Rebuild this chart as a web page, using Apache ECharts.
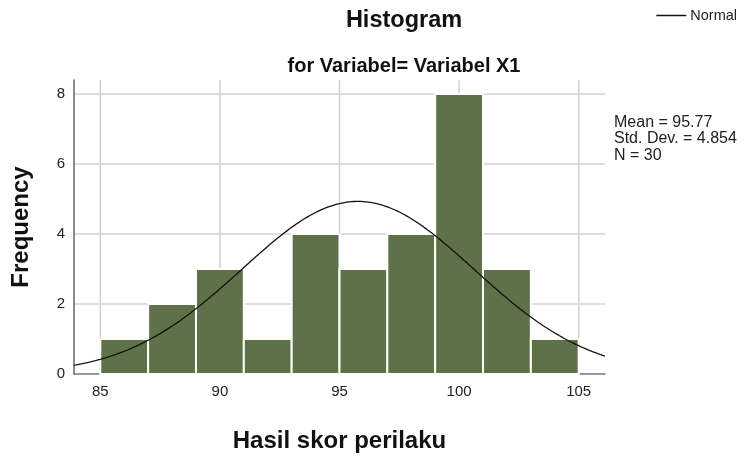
<!DOCTYPE html>
<html>
<head>
<meta charset="utf-8">
<script src="https://cdn.jsdelivr.net/npm/echarts@6/dist/echarts.min.js"></script>
<style>
  html, body { margin: 0; padding: 0; background: #fff; }
  #chart { width: 747px; height: 458px; }
</style>
</head>
<body>
<div id="chart"></div>
<script>
// histogram bins (start of each bin, width 2)
const binStarts = [85, 87, 89, 91, 93, 95, 97, 99, 101, 103];
const binWidth = 2;
const counts = [1, 2, 3, 1, 4, 3, 4, 8, 3, 1];

// stats printed next to the plot
const mean = 95.77;
const stdDev = 4.854;
const n = 30;

const xTicks = [85, 90, 95, 100, 105];
const yTicks = [2, 4, 6, 8];

const xMin = 83.9;
const xMax = 106.1;
const yMax = 8.4;

// normal curve scaled to the histogram (n * binWidth * pdf)
const curve = [];
for (let x = xMin; x <= xMax + 0.001; x += 0.1) {
  const z = (x - mean) / stdDev;
  const y = n * binWidth * Math.exp(-0.5 * z * z) / (stdDev * Math.sqrt(2 * Math.PI));
  curve.push([x, y]);
}

const bars = binStarts.map((s, i) => [s, s + binWidth, counts[i]]);

const myChart = echarts.init(document.getElementById('chart'));

const font = 'Liberation Sans, Arial, sans-serif';
const gridColor = '#d2d2d2';

const option = {
  animation: false,
  textStyle: { fontFamily: font },
  title: [
    {
      text: 'Histogram',
      left: 399,
      top: 4,
      textAlign: 'center',
      textStyle: { fontSize: 23.5, fontWeight: 'bold', color: '#111' }
    },
    {
      text: 'for Variabel= Variabel X1',
      left: 399,
      top: 51,
      textAlign: 'center',
      textStyle: { fontSize: 20, fontWeight: 'bold', color: '#111' }
    }
  ],
  legend: {
    data: [{ name: 'Normal', icon: 'rect' }],
    right: 5,
    top: 3,
    itemWidth: 30,
    itemHeight: 1.5,
    itemGap: 2,
    textStyle: { fontSize: 14.5, color: '#222', padding: [0, 0, 0, -1] }
  },
  graphic: [
    {
      type: 'text',
      left: 614,
      top: 114,
      style: {
        text: 'Mean = ' + mean + '\nStd. Dev. = ' + stdDev + '\nN = ' + n,
        font: '16px ' + font,
        lineHeight: 16.5,
        fill: '#222'
      }
    }
  ],
  grid: {
    left: 74,
    right: 142,
    top: 80,
    bottom: 82
  },
  xAxis: {
    type: 'value',
    min: xMin,
    max: xMax,
    name: 'Hasil skor perilaku',
    nameLocation: 'middle',
    nameGap: 55,
    nameTextStyle: { fontSize: 24, fontWeight: 'bold', color: '#111' },
    axisLine: { show: true, lineStyle: { color: '#777', width: 1.5 } },
    axisTick: { show: false },
    splitLine: { show: false },
    axisLabel: {
      fontSize: 15,
      color: '#222',
      margin: 10,
      formatter: v => (xTicks.indexOf(Math.round(v * 100) / 100) >= 0 ? String(v) : '')
    }
  },
  yAxis: {
    type: 'value',
    min: 0,
    max: yMax,
    name: 'Frequency',
    nameLocation: 'middle',
    nameGap: 41,
    nameTextStyle: { fontSize: 24, fontWeight: 'bold', color: '#111' },
    axisLine: { show: true, lineStyle: { color: '#666', width: 1.5 } },
    axisTick: { show: false },
    splitLine: { show: false },
    axisLabel: {
      fontSize: 15,
      color: '#222',
      margin: 9,
      formatter: v => (v % 2 === 0 ? String(v) : '')
    }
  },
  series: [
    {
      name: 'vgrid',
      type: 'custom',
      silent: true,
      z: 0,
      data: xTicks.map(v => [v, 0]),
      renderItem: function (params, api) {
        const cs = params.coordSys;
        const p = api.coord([api.value(0), 0]);
        return {
          type: 'line',
          shape: { x1: p[0], y1: cs.y, x2: p[0], y2: cs.y + cs.height },
          style: { stroke: gridColor, lineWidth: 1.5 }
        };
      }
    },
    {
      name: 'hgrid',
      type: 'custom',
      silent: true,
      z: 0,
      data: yTicks.map(v => [xMin, v]),
      renderItem: function (params, api) {
        const cs = params.coordSys;
        const p = api.coord([xMin, api.value(1)]);
        return {
          type: 'line',
          shape: { x1: cs.x, y1: p[1], x2: cs.x + cs.width, y2: p[1] },
          style: { stroke: gridColor, lineWidth: 1.5 }
        };
      }
    },
    {
      name: 'Frequency',
      type: 'custom',
      z: 2,
      data: bars,
      renderItem: function (params, api) {
        const p0 = api.coord([api.value(0), api.value(2)]);
        const p1 = api.coord([api.value(1), 0]);
        return {
          type: 'rect',
          shape: { x: p0[0], y: p0[1], width: p1[0] - p0[0], height: p1[1] - p0[1] },
          style: { fill: '#5e7148', stroke: '#ffffff', lineWidth: 2 }
        };
      }
    },
    {
      name: 'Normal',
      type: 'line',
      z: 3,
      data: curve,
      showSymbol: false,
      lineStyle: { color: '#111', width: 1.3 },
      itemStyle: { color: '#111' }
    }
  ]
};

myChart.setOption(option);

window.addEventListener('resize', function () {
  myChart.resize();
});
</script>
</body>
</html>
